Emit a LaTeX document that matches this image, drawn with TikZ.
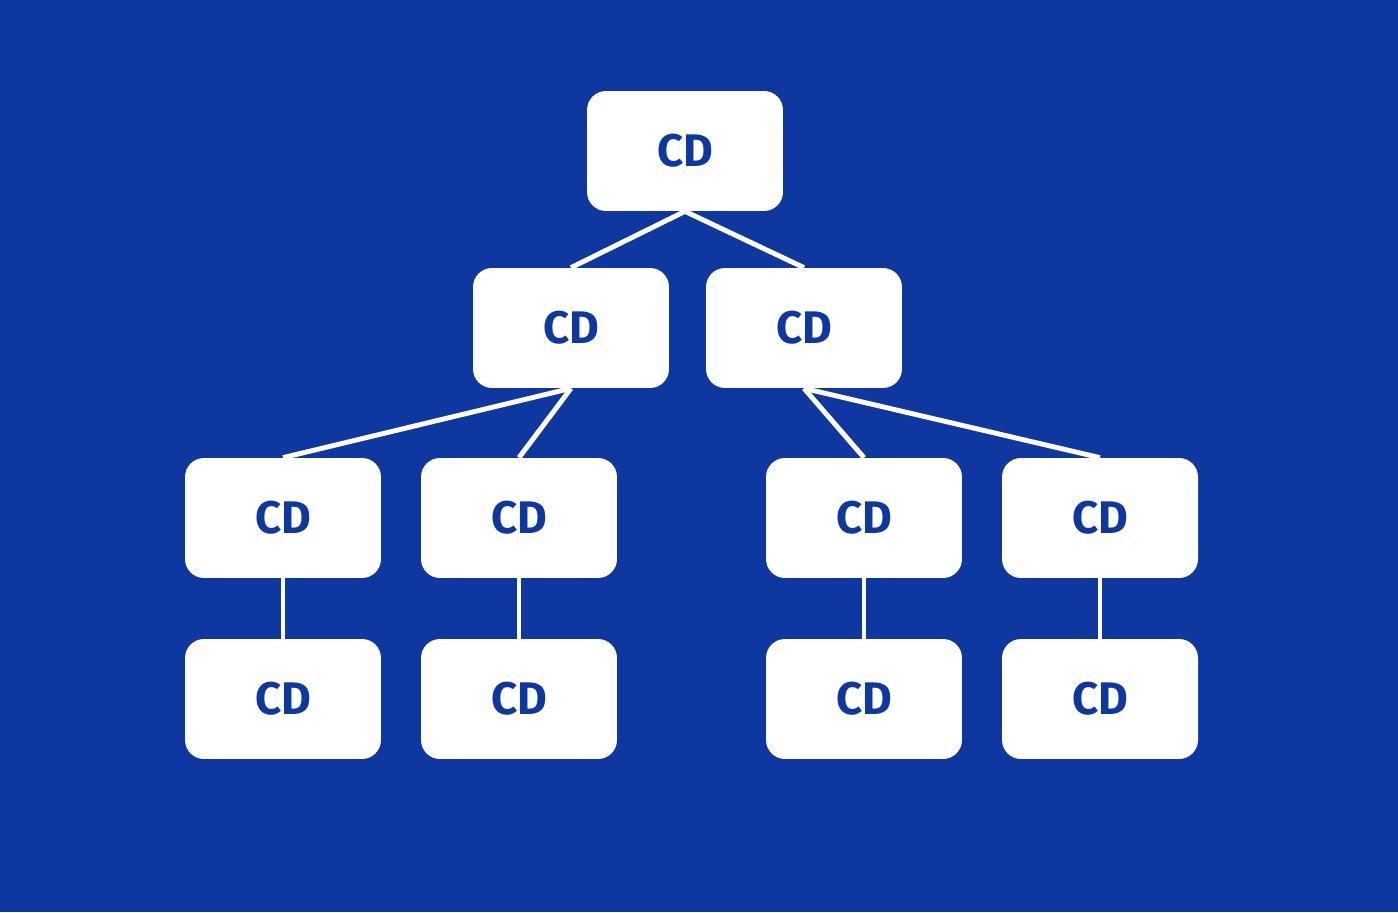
\documentclass[tikz,border=0pt]{standalone}
\usepackage{fontspec}
\setmainfont{Fira Sans}
\definecolor{bg}{HTML}{0E37A0}
\begin{document}
\begin{tikzpicture}[x=0.02cm,y=-0.02cm,
  box/.style={fill=white,rounded corners=0.38cm,minimum width=3.92cm,minimum height=2.4cm,inner sep=0pt,text=bg,font=\fontsize{26}{26}\selectfont\bfseries},
  link/.style={draw=white,line width=2.8pt}]
\fill[bg] (0,0) rectangle (1398,912);
\useasboundingbox (0,0) rectangle (1398,912);
\node[box] (r) at (685,151) {CD};
\node[box] (a) at (571,328) {CD};
\node[box] (b) at (804,328) {CD};
\node[box] (a1) at (283,518) {CD};
\node[box] (a2) at (519,518) {CD};
\node[box] (b1) at (864,518) {CD};
\node[box] (b2) at (1100,518) {CD};
\node[box] (a1c) at (283,699) {CD};
\node[box] (a2c) at (519,699) {CD};
\node[box] (b1c) at (864,699) {CD};
\node[box] (b2c) at (1100,699) {CD};
\draw[link] (r.south) -- (a.north);
\draw[link] (r.south) -- (b.north);
\draw[link] (a.south) -- (a1.north);
\draw[link] (a.south) -- (a2.north);
\draw[link] (b.south) -- (b1.north);
\draw[link] (b.south) -- (b2.north);
\draw[link] (a1.south) -- (a1c.north);
\draw[link] (a2.south) -- (a2c.north);
\draw[link] (b1.south) -- (b1c.north);
\draw[link] (b2.south) -- (b2c.north);
\end{tikzpicture}
\end{document}
